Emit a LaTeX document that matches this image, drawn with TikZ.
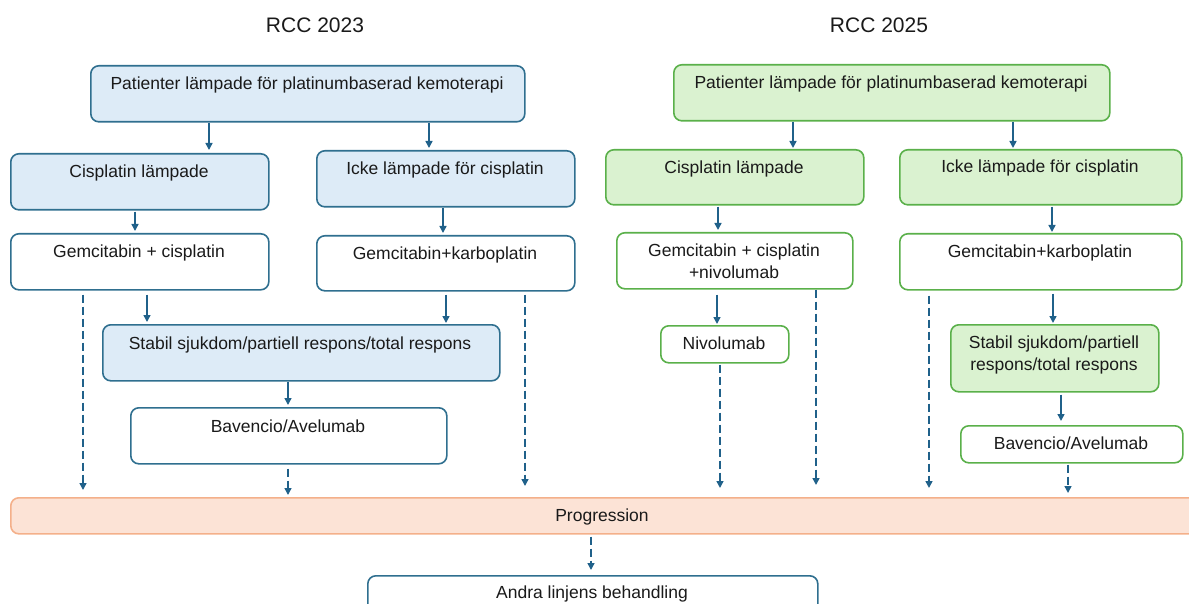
\documentclass[tikz,border=0pt]{standalone}
\usepackage{fontspec}
\setmainfont{Liberation Sans}
\usetikzlibrary{arrows.meta,calc}
\definecolor{bstroke}{HTML}{2F6F8F}
\definecolor{bfill}{HTML}{DDEBF7}
\definecolor{gstroke}{HTML}{5AB04A}
\definecolor{gfill}{HTML}{DAF2D0}
\definecolor{ostroke}{HTML}{F4B08A}
\definecolor{ofill}{HTML}{FCE3D6}
\definecolor{acol}{HTML}{20618A}
\definecolor{tcol}{HTML}{1A1A1A}
\newcommand\vlink[6][arr]{%
  \coordinate (vx) at (#2,0);
  \draw[#1, shorten <=#5pt, shorten >=#6pt] (#3.south -| vx) -- (#4.north -| vx);}
\begin{document}
\begin{tikzpicture}[x=1pt,y=-1pt,
  box/.style={draw, rounded corners=8pt, line width=1.6pt, anchor=north west, inner sep=0pt},
  bluebox/.style={box, draw=bstroke, fill=bfill},
  bluewhite/.style={box, draw=bstroke, fill=white},
  greenbox/.style={box, draw=gstroke, fill=gfill},
  greenwhite/.style={box, draw=gstroke, fill=white},
  orangebox/.style={box, draw=ostroke, fill=ofill},
  txt/.style={font=\fontsize{17.5}{21}\selectfont, inner sep=0pt, align=center, text=tcol, text height=13pt, text depth=4pt, yshift=-1.5pt},
  txtml/.style={font=\fontsize{17.5}{21.5}\selectfont, inner sep=0pt, align=center, text=tcol, anchor=north, yshift=-1.5pt},
  title/.style={font=\fontsize{21}{25}\selectfont, inner sep=0pt, text=tcol},
  arr/.style={draw=acol, line width=1.5pt, -{Triangle[width=7pt,length=7pt]}},
  darr/.style={arr, dash pattern=on 8pt off 4pt},
]
\useasboundingbox (0,0) rectangle (1189,604);
\clip (0,0) rectangle (1189,604);

% titles
\node[title] (T1) at (315,25) {RCC 2023};
\node[title] (T2) at (879,25) {RCC 2025};

% left column boxes
\node[bluebox, minimum width=434pt, minimum height=56pt] (L0) at (90,65) {};
\node[txt] (L0t) at (307,84) {Patienter lämpade för platinumbaserad kemoterapi};
\node[bluebox, minimum width=258pt, minimum height=56pt] (L1) at (10,153) {};
\node[txt] (L1t) at (139,172) {Cisplatin lämpade};
\node[bluebox, minimum width=258pt, minimum height=56pt] (L2) at (316,150) {};
\node[txt] (L2t) at (445,169) {Icke lämpade för cisplatin};
\node[bluewhite, minimum width=258pt, minimum height=56pt] (L3) at (10,233) {};
\node[txt] (L3t) at (139,252) {Gemcitabin + cisplatin};
\node[bluewhite, minimum width=258pt, minimum height=55pt] (L4) at (316,235) {};
\node[txt] (L4t) at (445,253) {Gemcitabin+karboplatin};
\node[bluebox, minimum width=397pt, minimum height=56pt] (L5) at (102,324) {};
\node[txt] (L5t) at (300,343) {Stabil sjukdom/partiell respons/total respons};
\node[bluewhite, minimum width=316pt, minimum height=56pt] (L6) at (130,407) {};
\node[txt] (L6t) at (288,426) {Bavencio/Avelumab};

% progression and second line
\node[orangebox, minimum width=1220pt, minimum height=36pt] (P) at (10,497) {};
\node[txt] (Pt) at (602,515) {Progression};
\node[bluewhite, minimum width=450pt, minimum height=60pt] (A) at (367,575) {};
\node[txt] (At) at (592,592) {Andra linjens behandling};

% right column boxes
\node[greenbox, minimum width=436pt, minimum height=56pt] (R0) at (673,64) {};
\node[txt] (R0t) at (891,83) {Patienter lämpade för platinumbaserad kemoterapi};
\node[greenbox, minimum width=258pt, minimum height=55pt] (R1) at (605,149) {};
\node[txt] (R1t) at (734,168) {Cisplatin lämpade};
\node[greenbox, minimum width=282pt, minimum height=55pt] (R2) at (899,149) {};
\node[txt] (R2t) at (1040,167) {Icke lämpade för cisplatin};
\node[greenwhite, minimum width=236pt, minimum height=56pt] (R3) at (616,232) {};
\node[txtml] (R3t) at (734,242.5) {Gemcitabin + cisplatin\\+nivolumab};
\node[greenwhite, minimum width=282pt, minimum height=56pt] (R4) at (899,233) {};
\node[txt] (R4t) at (1040,252) {Gemcitabin+karboplatin};
\node[greenwhite, minimum width=128pt, minimum height=37pt] (R5) at (660,325) {};
\node[txt] (R5t) at (724,343.5) {Nivolumab};
\node[greenbox, minimum width=208pt, minimum height=67pt] (R6) at (950,324) {};
\node[txtml] (R6t) at (1054,334.5) {Stabil sjukdom/partiell\\respons/total respons};
\node[greenwhite, minimum width=222pt, minimum height=37pt] (R7) at (960,425) {};
\node[txt] (R7t) at (1071,443.5) {Bavencio/Avelumab};

% solid connectors
\vlink{209}{L0}{L1}{0}{3}
\vlink{429}{L0}{L2}{0}{2}
\vlink{135}{L1}{L3}{1}{2}
\vlink{443}{L2}{L4}{0}{2}
\vlink{147}{L3}{L5}{4}{2}
\vlink{446}{L4}{L5}{3}{1}
\vlink{288}{L5}{L6}{0}{2}
\vlink{793}{R0}{R1}{0}{1}
\vlink{1013}{R0}{R2}{0}{1}
\vlink{718}{R1}{R3}{1}{2}
\vlink{1052}{R2}{R4}{1}{1}
\vlink{717}{R3}{R5}{5}{1}
\vlink{1053}{R4}{R6}{3}{1}
\vlink{1061}{R6}{R7}{2}{4}

% dashed connectors
\vlink[darr]{83}{L3}{P}{4}{7}
\vlink[darr]{525}{L4}{P}{3}{11}
\vlink[darr]{288}{L6}{P}{4}{2}
\vlink[darr]{591}{P}{A}{2}{5}
\vlink[darr]{720}{R5}{P}{1}{9}
\vlink[darr]{816}{R3}{P}{0}{12}
\vlink[darr]{929}{R4}{P}{5}{9}
\vlink[darr]{1068}{R7}{P}{1}{4}
\end{tikzpicture}
\end{document}
